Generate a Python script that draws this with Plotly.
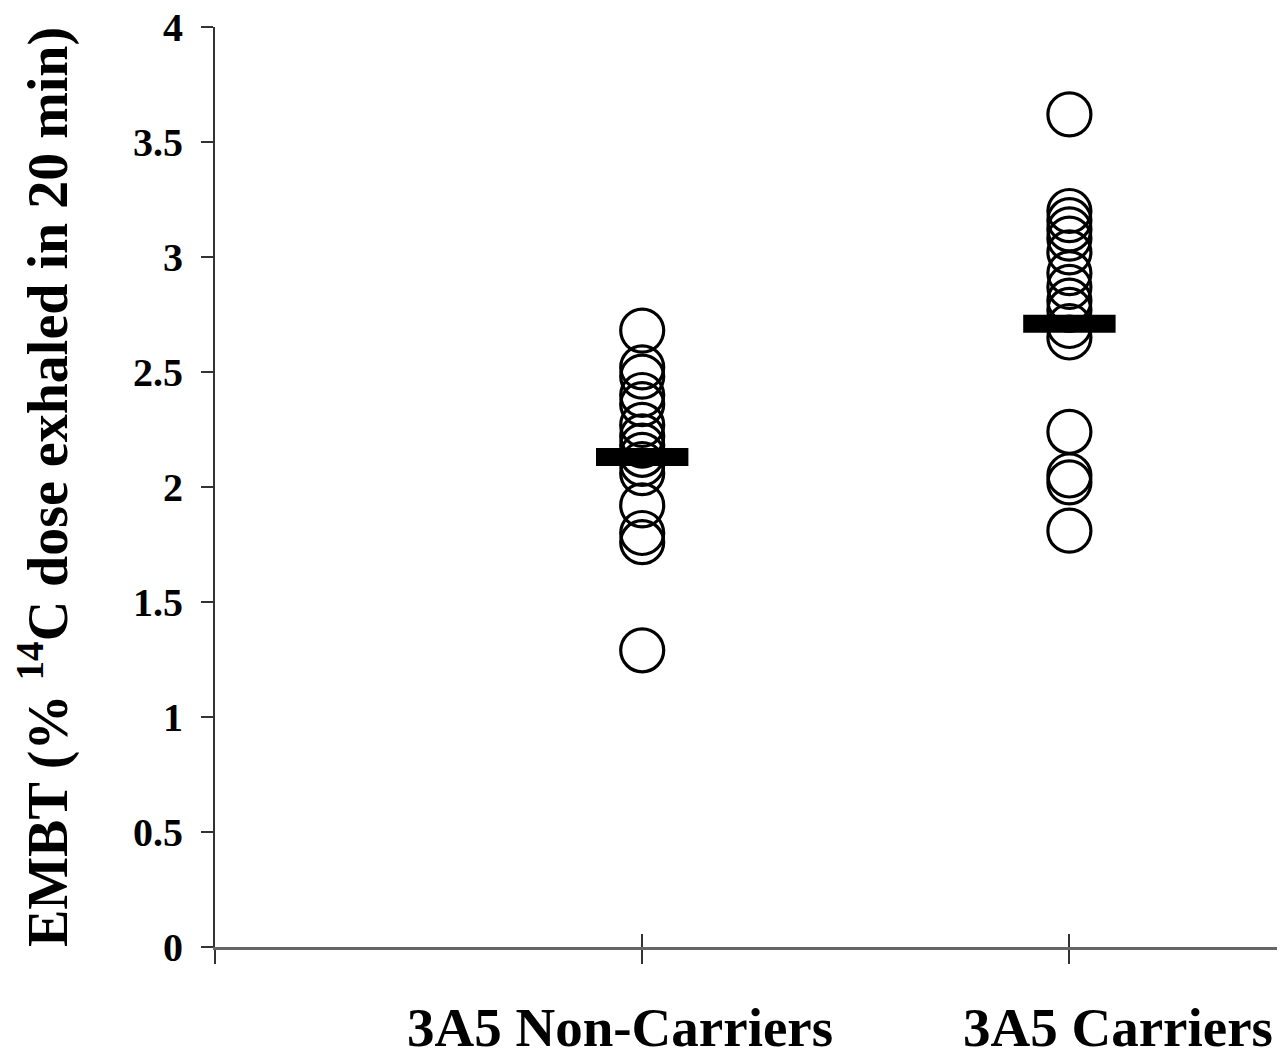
import plotly.graph_objects as go

categories = ["3A5 Non-Carriers", "3A5 Carriers"]
cat_pos = [1, 2]
non_carriers = [2.68, 2.52, 2.48, 2.40, 2.36, 2.27, 2.22, 2.18, 2.14, 2.10, 2.06, 1.92, 1.80, 1.76, 1.29]
carriers = [3.62, 3.20, 3.16, 3.12, 3.08, 3.02, 2.93, 2.87, 2.81, 2.77, 2.70, 2.65, 2.24, 2.05, 2.02, 1.81]
means = [2.13, 2.71]
y_ticks = [0, 0.5, 1, 1.5, 2, 2.5, 3, 3.5, 4]
y_tick_text = ["0", "0.5", "1", "1.5", "2", "2.5", "3", "3.5", "4"]

FONT = "Liberation Serif"

fig = go.Figure()
for pos, vals in zip(cat_pos, [non_carriers, carriers]):
    fig.add_trace(go.Scatter(
        x=[pos] * len(vals), y=vals, mode="markers",
        marker=dict(symbol="circle-open", size=43, color="black", line=dict(width=3.2, color="black")),
        showlegend=False, hoverinfo="y"))

fig.add_trace(go.Scatter(
    x=cat_pos, y=means, mode="markers",
    marker=dict(symbol="line-ew", size=66, color="black", line=dict(width=18, color="black")),
    showlegend=False, hoverinfo="y"))

# invisible trace on overlay axis to get inside ticks
fig.add_trace(go.Scatter(x=[0], y=[0], xaxis="x2", yaxis="y", mode="markers",
                         marker=dict(opacity=0), showlegend=False, hoverinfo="skip"))

fig.update_layout(
    width=1285, height=1057,
    margin=dict(l=207, r=10, t=19, b=118),
    paper_bgcolor="white", plot_bgcolor="white",
    xaxis=dict(range=[0, 2.5], tickvals=[0] + cat_pos, showticklabels=False,
               ticks="outside", ticklen=14, tickwidth=1.5, tickcolor="#333",
               showline=True, linecolor="#666", linewidth=2.5, automargin=False,
               showgrid=False, zeroline=False, fixedrange=True),
    xaxis2=dict(range=[0, 2.5], overlaying="x", side="bottom", anchor="y",
                tickvals=cat_pos, showticklabels=False, ticks="inside", ticklen=13,
                tickwidth=1.5, tickcolor="#333", showline=False, showgrid=False,
                zeroline=False, fixedrange=True, automargin=False),
    yaxis=dict(range=[0, 4], tickvals=y_ticks, ticktext=[f"<b>{t}</b>" for t in y_tick_text],
               ticks="outside", ticklen=12, tickwidth=1.5, tickcolor="#333",
               ticklabelstandoff=10, ticklabeloverflow="allow", automargin=False,
               showline=True, linecolor="#333", linewidth=2,
               showgrid=False, zeroline=False, fixedrange=True,
               tickfont=dict(family=FONT, size=40, color="black"),
               title=dict(text="<b>EMBT (% <sup>14</sup>C dose exhaled in 20 min)</b>",
                          font=dict(family=FONT, size=56, color="black"), standoff=50)),
    font=dict(family=FONT, color="black"),
)

# category labels below axis
label_shift = [-22, 49]
for pos, name, sh in zip(cat_pos, categories, label_shift):
    fig.add_annotation(x=pos, y=0, xref="x", yref="y", yshift=-80, xshift=sh,
                       text=f"<b>{name}</b>", showarrow=False,
                       font=dict(family=FONT, size=55, color="black"),
                       xanchor="center", yanchor="middle")

fig.write_html("out.html")
